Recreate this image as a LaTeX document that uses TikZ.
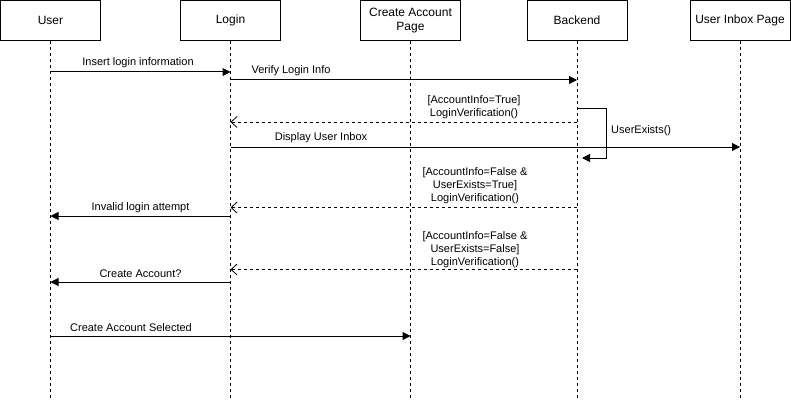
\documentclass[tikz,border=0pt]{standalone}
\usepackage{fontspec}
\setmainfont{Liberation Sans}
\usetikzlibrary{arrows.meta}
\begin{document}
\begin{tikzpicture}[x=1pt,y=-1pt,
  actor/.style={draw=black,line width=1pt,minimum width=100pt,minimum height=40pt,inner sep=0pt,align=center,font=\fontsize{12}{14}\selectfont},
  lifeline/.style={line width=1pt,dash pattern=on 3pt off 3pt},
  msg/.style={line width=1pt,-{Triangle[length=8pt,width=8pt]}},
  ret/.style={line width=0.8pt,dash pattern=on 3pt off 3pt,-{Straight Barb[length=6pt,width=11pt,line width=0.8pt]}},
  lbl/.style={inner sep=0pt,align=center,font=\fontsize{11}{13}\selectfont}]
\useasboundingbox (0,0) rectangle (791,401);
% actors
\node[actor] (user) at (50.5,20.5) {User};
\node[actor] (login) at (230.5,20.5) {Login};
\node[actor] (cap) at (410.5,20.5) {Create Account\\Page};
\node[actor] (back) at (577,20.5) {Backend};
\node[actor] (inbox) at (740,20.5) {User Inbox Page};
% lifeline ends
\coordinate (userE) at (50.5,400);
\coordinate (loginE) at (230.5,400);
\coordinate (capE) at (410.5,400);
\coordinate (backE) at (577,400);
\coordinate (inboxE) at (740,400);
\draw[lifeline] (user.south) -- (userE);
\draw[lifeline] (login.south) -- (loginE);
\draw[lifeline] (cap.south) -- (capE);
\draw[lifeline] (back.south) -- (backE);
\draw[lifeline] (inbox.south) -- (inboxE);
% message points
\coordinate (u1) at (50.5,72); \coordinate (l1) at (230.5,72);
\coordinate (l2) at (230.5,80); \coordinate (b2) at (577,80);
\coordinate (b3) at (577,122); \coordinate (l3) at (230.5,122);
\coordinate (s1) at (577,108); \coordinate (s2) at (606,108);
\coordinate (s3) at (606,158); \coordinate (s4) at (582,158);
\coordinate (l4) at (230.5,147); \coordinate (i4) at (740,147);
\coordinate (b5) at (577,207.5); \coordinate (l5) at (230.5,207.5);
\coordinate (l6) at (230.5,216); \coordinate (u6) at (50.5,216);
\coordinate (b7) at (577,269.5); \coordinate (l7) at (230.5,269.5);
\coordinate (l8) at (230.5,282); \coordinate (u8) at (50.5,282);
\coordinate (u9) at (50.5,336); \coordinate (c9) at (410.5,336);
% messages
\draw[msg] (u1) -- (l1);
\node[lbl] (t1) at (138,63) {Insert login information};
\draw[msg] (l2) -- (b2);
\node[lbl] (t2) at (291,71) {Verify Login Info};
\draw[ret] (b3) -- (l3);
\node[lbl] (t3) at (474,107) {[AccountInfo=True]\\LoginVerification()};
\draw[msg] (s1) -- (s2) -- (s3) -- (s4);
\node[lbl,anchor=west] (t4) at (611,131) {UserExists()};
\draw[msg] (l4) -- (i4);
\node[lbl] (t5) at (321,138) {Display User Inbox};
\draw[ret] (b5) -- (l5);
\node[lbl] (t6) at (475,185.5) {[AccountInfo=False \&\\UserExists=True]\\LoginVerification()};
\draw[msg] (l6) -- (u6);
\node[lbl] (t7) at (140.5,207.5) {Invalid login attempt};
\draw[ret] (b7) -- (l7);
\node[lbl] (t8) at (475,249.5) {[AccountInfo=False \&\\UserExists=False]\\LoginVerification()};
\draw[msg] (l8) -- (u8);
\node[lbl] (t9) at (140.5,274) {Create Account?};
\draw[msg] (u9) -- (c9);
\node[lbl] (t10) at (131,327.5) {Create Account Selected};
\end{tikzpicture}
\end{document}
